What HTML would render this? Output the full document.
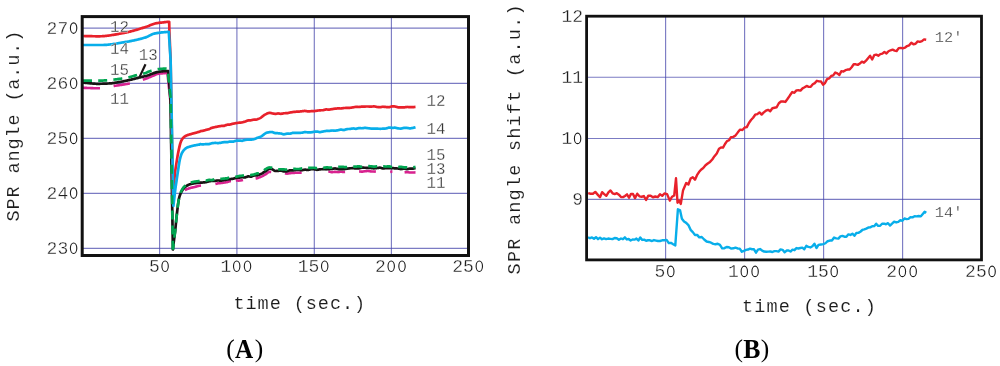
<!DOCTYPE html>
<html><head><meta charset="utf-8"><style>
html,body{margin:0;padding:0;background:#fff;}
body{width:1000px;height:366px;overflow:hidden;}
svg{display:block;}
text{-webkit-font-smoothing:antialiased;}
.g{opacity:0.999;will-change:transform;}
</style></head><body>
<svg width="1000" height="366" viewBox="0 0 1000 366"><g class="g">
<line x1="83" y1="28.1" x2="468" y2="28.1" stroke="rgba(72,72,172,0.72)" stroke-width="1.15"/>
<line x1="83" y1="83.3" x2="468" y2="83.3" stroke="rgba(72,72,172,0.72)" stroke-width="1.15"/>
<line x1="83" y1="138.4" x2="468" y2="138.4" stroke="rgba(72,72,172,0.72)" stroke-width="1.15"/>
<line x1="83" y1="193.4" x2="468" y2="193.4" stroke="rgba(72,72,172,0.72)" stroke-width="1.15"/>
<line x1="83" y1="248.4" x2="468" y2="248.4" stroke="rgba(72,72,172,0.72)" stroke-width="1.15"/>
<line x1="159.6" y1="17" x2="159.6" y2="255" stroke="rgba(72,72,172,0.72)" stroke-width="1.15"/>
<line x1="236.9" y1="17" x2="236.9" y2="255" stroke="rgba(72,72,172,0.72)" stroke-width="1.15"/>
<line x1="314.3" y1="17" x2="314.3" y2="255" stroke="rgba(72,72,172,0.72)" stroke-width="1.15"/>
<line x1="391.4" y1="17" x2="391.4" y2="255" stroke="rgba(72,72,172,0.72)" stroke-width="1.15"/>
<path d="M83,87.8 L83.71,87.82 L84.42,87.84 L85.12,87.87 L85.83,87.89 L86.54,87.92 L87.25,87.95 L87.96,87.98 L88.67,88 L89.38,88.03 L90.08,88.06 L90.79,88.09 L91.5,88.11 L92.21,88.14 L92.92,88.16 L93.62,88.19 L94.33,88.21 L95.04,88.23 L95.75,88.25 L96.46,88.26 L97.17,88.27 L97.88,88.29 L98.58,88.29 L99.29,88.3 L100,88.3 L100.73,88.29 L101.45,88.25 L102.18,88.19 L102.91,88.12 L103.63,88.02 L104.36,87.91 L105.08,87.79 L105.81,87.65 L106.54,87.51 L107.26,87.36 L107.99,87.2 L108.72,87.04 L109.44,86.88 L110.17,86.72 L110.89,86.56 L111.62,86.41 L112.35,86.26 L113.07,86.13 L113.8,86 L114.5,85.89 L115.21,85.78 L115.91,85.67 L116.62,85.56 L117.32,85.46 L118.03,85.35 L118.73,85.25 L119.43,85.15 L120.14,85.04 L120.84,84.94 L121.55,84.84 L122.25,84.73 L122.96,84.63 L123.66,84.52 L124.37,84.41 L125.07,84.3 L125.77,84.18 L126.48,84.06 L127.18,83.94 L127.89,83.81 L128.59,83.68 L129.3,83.54 L130,83.4 L130.71,83.25 L131.42,83.09 L132.13,82.93 L132.84,82.76 L133.55,82.58 L134.26,82.4 L134.97,82.21 L135.68,82.02 L136.39,81.82 L137.11,81.61 L137.82,81.4 L138.53,81.19 L139.24,80.97 L139.95,80.75 L140.66,80.53 L141.37,80.3 L142.08,80.07 L142.79,79.84 L143.5,79.6 L144.23,79.35 L144.96,79.08 L145.69,78.81 L146.42,78.52 L147.15,78.23 L147.88,77.93 L148.62,77.62 L149.35,77.32 L150.08,77.01 L150.81,76.7 L151.54,76.39 L152.27,76.09 L153,75.8 L153.8,75.46 L154.6,75.09 L155.4,74.72 L156.2,74.38 L157,74.09 L157.8,73.9 L158.54,73.78 L159.28,73.67 L160.02,73.57 L160.75,73.49 L161.49,73.41 L162.23,73.35 L162.97,73.28 L163.71,73.22 L164.45,73.16 L165.18,73.1 L165.92,73.04 L166.66,72.97 L167.4,72.9 L170.3,100" fill="none" stroke="#d8228f" stroke-width="2.6" stroke-dasharray="17 13.8 16.5 13.5 100 200"/>
<path d="M172.9,249.5 L173.45,244.67 L174,240 L174.55,235.92 L175.1,231.7 L175.63,226.48 L176.17,220.72 L176.7,215.5 L177.3,210.18 L177.9,204.99 L178.5,200.69 L179.1,198 L179.7,196.62 L180.3,195.61 L180.9,194.79 L181.5,194 L182.08,193.18 L182.66,192.37 L183.24,191.62 L183.82,190.99 L184.4,190.5 L184.94,190.15 L185.49,189.83 L186.03,189.55 L186.58,189.3 L187.12,189.07 L187.67,188.86 L188.21,188.66 L188.76,188.48 L189.3,188.3 L189.82,188.14 L190.34,187.99 L190.85,187.86 L191.37,187.73 L191.89,187.61 L192.41,187.49 L192.93,187.38 L193.45,187.26 L193.96,187.15 L194.48,187.03 L195,186.9 L195.52,186.76 L196.04,186.62 L196.57,186.47 L197.09,186.32 L197.61,186.18 L198.13,186.04 L198.66,185.91 L199.18,185.8 L199.7,185.7 L200.2,185.59 L200.7,185.52 L201.2,185.46 L201.7,185.41 L202.2,185.35 L202.7,185.3 L203.2,185.27 L203.7,185.26 L204.2,185.25 L204.7,185.24 L205.2,185.24 L205.7,185.24 L206.2,185.19 L206.7,185.08 L207.2,184.97 L207.7,184.87 L208.2,184.76 L208.7,184.65 L209.2,184.57 L209.7,184.53 L210.2,184.49 L210.7,184.45 L211.2,184.41 L211.7,184.36 L212.2,184.32 L212.7,184.28 L213.2,184.24 L213.7,184.19 L214.2,184.14 L214.7,184.09 L215.2,184.01 L215.7,183.89 L216.21,183.77 L216.72,183.64 L217.23,183.51 L217.74,183.37 L218.25,183.29 L218.76,183.25 L219.27,183.2 L219.78,183.16 L220.29,183.11 L220.8,183.07 L221.31,183 L221.82,182.92 L222.33,182.85 L222.84,182.77 L223.36,182.69 L223.87,182.61 L224.38,182.54 L224.89,182.46 L225.4,182.39 L225.91,182.32 L226.42,182.26 L226.93,182.19 L227.44,182.02 L227.95,181.84 L228.46,181.67 L228.97,181.49 L229.48,181.32 L229.99,181.15 L230.5,181.1 L231,181.06 L231.5,181.03 L232,180.99 L232.5,180.96 L233,180.93 L233.5,180.84 L234,180.75 L234.5,180.67 L235,180.58 L235.5,180.5 L236,180.41 L236.5,180.45 L237,180.49 L237.5,180.53 L238,180.57 L238.5,180.61 L239,180.65 L239.51,180.57 L240.02,180.5 L240.53,180.43 L241.04,180.35 L241.54,180.28 L242.05,180.21 L242.56,180.07 L243.07,179.93 L243.58,179.79 L244.09,179.65 L244.6,179.51 L245.11,179.41 L245.61,179.49 L246.12,179.56 L246.63,179.64 L247.14,179.71 L247.65,179.79 L248.16,179.82 L248.67,179.76 L249.18,179.7 L249.69,179.64 L250.19,179.58 L250.7,179.52 L251.21,179.43 L251.72,179.33 L252.23,179.22 L252.74,179.1 L253.25,178.99 L253.76,178.87 L254.26,178.77 L254.77,178.68 L255.28,178.59 L255.79,178.5 L256.3,178.4 L256.81,178.3 L257.32,178.15 L257.82,177.98 L258.33,177.79 L258.84,177.6 L259.35,177.39 L259.86,177.18 L260.37,176.98 L260.88,176.79 L261.38,176.58 L261.89,176.37 L262.4,176.13 L262.91,175.85 L263.43,175.57 L263.94,175.25 L264.46,174.92 L264.97,174.58 L265.49,174.28 L266,174.02 L266.54,173.63 L267.09,173.22 L267.63,172.81 L268.17,172.43 L268.71,172.12 L269.26,171.92 L269.8,171.88 L270.32,171.9 L270.83,171.93 L271.35,171.97 L271.87,172.02 L272.38,172.06 L272.9,172.11 L273.42,172.16 L273.93,172.21 L274.45,172.26 L274.97,172.31 L275.48,172.33 L276,172.34 L276.51,172.35 L277.02,172.36 L277.53,172.38 L278.04,172.41 L278.55,172.52 L279.06,172.64 L279.57,172.75 L280.08,172.87 L280.59,172.98 L281.11,173.08 L281.62,173.13 L282.13,173.18 L282.64,173.22 L283.15,173.26 L283.66,173.29 L284.17,173.33 L284.68,173.41 L285.19,173.48 L285.7,173.53 L286.22,173.58 L286.74,173.62 L287.26,173.61 L287.77,173.53 L288.29,173.44 L288.81,173.36 L289.33,173.26 L289.85,173.17 L290.37,173.11 L290.89,173.08 L291.41,173.05 L291.93,173.02 L292.44,172.99 L292.96,172.97 L293.48,172.92 L294,172.87 L294.5,172.84 L295,172.8 L295.5,172.76 L296,172.73 L296.5,172.73 L297,172.74 L297.5,172.74 L298,172.75 L298.5,172.75 L299,172.76 L299.5,172.72 L300,172.67 L300.5,172.63 L301,172.59 L301.5,172.55 L302,172.51 L302.5,172.47 L303,172.43 L303.5,172.39 L304,172.36 L304.5,172.32 L305,172.28 L305.5,172.37 L306,172.45 L306.5,172.54 L307,172.62 L307.5,172.7 L308,172.79 L308.5,172.78 L309,172.77 L309.5,172.76 L310,172.75 L310.5,172.73 L311,172.72 L311.5,172.69 L312,172.66 L312.5,172.63 L313,172.6 L313.5,172.57 L314,172.54 L314.5,172.52 L315,172.49 L315.5,172.46 L316,172.44 L316.5,172.41 L317,172.38 L317.5,172.32 L318,172.26 L318.5,172.2 L319,172.14 L319.5,172.08 L320,172.02 L320.5,172 L321,171.98 L321.5,171.96 L322,171.94 L322.5,171.92 L323,171.9 L323.5,171.9 L324,171.9 L324.5,171.9 L325,171.9 L325.5,171.9 L326,171.9 L326.5,171.86 L327,171.83 L327.5,171.79 L328,171.75 L328.5,171.71 L329,171.67 L329.5,171.76 L330,171.84 L330.5,171.93 L331,172.01 L331.5,172.1 L332,172.18 L332.5,172.12 L333,172.06 L333.5,172.01 L334,171.95 L334.5,171.89 L335,171.83 L335.5,171.88 L336,171.93 L336.5,171.98 L337,172.03 L337.5,172.08 L338,172.12 L338.5,172.05 L339,171.98 L339.5,171.91 L340,171.83 L340.5,171.76 L341,171.69 L341.5,171.75 L342,171.82 L342.5,171.88 L343,171.94 L343.5,172.01 L344,172.07 L344.5,172.05 L345,172.02 L345.5,171.99 L346,171.96 L346.5,171.94 L347,171.91 L347.5,171.79 L348,171.66 L348.5,171.53 L349,171.41 L349.5,171.29 L350,171.16 L350.5,171.18 L351,171.19 L351.5,171.21 L352,171.23 L352.5,171.24 L353,171.26 L353.5,171.34 L354,171.42 L354.5,171.51 L355,171.59 L355.5,171.67 L356,171.76 L356.5,171.69 L357,171.62 L357.5,171.55 L358,171.49 L358.5,171.42 L359,171.35 L359.5,171.41 L360,171.47 L360.5,171.53 L361,171.6 L361.5,171.66 L362,171.72 L362.5,171.64 L363,171.55 L363.5,171.47 L364,171.39 L364.5,171.31 L365,171.23 L365.5,171.18 L366,171.14 L366.5,171.09 L367,171.05 L367.5,171 L368,170.96 L368.51,171.03 L369.02,171.11 L369.53,171.19 L370.03,171.27 L370.54,171.35 L371.05,171.42 L371.56,171.45 L372.07,171.48 L372.58,171.51 L373.09,171.54 L373.6,171.57 L374.1,171.58 L374.61,171.52 L375.12,171.46 L375.63,171.41 L376.14,171.35 L376.65,171.29 L377.16,171.25 L377.67,171.24 L378.17,171.23 L378.68,171.22 L379.19,171.21 L379.7,171.2 L380.21,171.22 L380.72,171.27 L381.23,171.32 L381.73,171.37 L382.24,171.42 L382.75,171.47 L383.26,171.55 L383.77,171.65 L384.28,171.75 L384.79,171.86 L385.3,171.96 L385.8,172.06 L386.31,172.1 L386.82,172.09 L387.33,172.07 L387.84,172.06 L388.35,172.05 L388.86,172.04 L389.37,171.99 L389.87,171.91 L390.38,171.84 L390.89,171.77 L391.4,171.7 L391.9,171.62 L392.4,171.64 L392.91,171.67 L393.41,171.7 L393.91,171.73 L394.41,171.76 L394.91,171.79 L395.42,171.79 L395.92,171.79 L396.42,171.78 L396.92,171.78 L397.42,171.77 L397.93,171.77 L398.43,171.77 L398.93,171.78 L399.43,171.79 L399.94,171.8 L400.44,171.81 L400.94,171.82 L401.44,171.92 L401.94,172.03 L402.45,172.15 L402.95,172.26 L403.45,172.37 L403.95,172.49 L404.45,172.44 L404.96,172.37 L405.46,172.3 L405.96,172.23 L406.46,172.16 L406.96,172.1 L407.47,172.15 L407.97,172.22 L408.47,172.29 L408.97,172.35 L409.48,172.42 L409.98,172.48 L410.48,172.49 L410.98,172.49 L411.48,172.49 L411.99,172.49 L412.49,172.49 L412.99,172.48 L413.49,172.47 L413.99,172.45 L414.5,172.43 L415,172.41 L415.5,172.39" fill="none" stroke="#d8228f" stroke-width="2.6" stroke-dasharray="0 61.62 16.96 14.51 15.93 4.85 7.28 12.81 17.25 13.81 16.87 26.69 16.94 14.17 16.92 14.39 2.22 12.28 10.95 10"/>
<path d="M83,82.6 L83.7,82.66 L84.41,82.72 L85.11,82.79 L85.82,82.86 L86.52,82.94 L87.23,83.01 L87.93,83.09 L88.64,83.16 L89.34,83.24 L90.05,83.31 L90.75,83.39 L91.46,83.45 L92.16,83.52 L92.87,83.58 L93.57,83.63 L94.28,83.68 L94.98,83.72 L95.69,83.75 L96.39,83.78 L97.1,83.79 L97.8,83.8 L98.52,83.8 L99.24,83.79 L99.95,83.78 L100.67,83.77 L101.39,83.76 L102.11,83.74 L102.82,83.72 L103.54,83.7 L104.26,83.67 L104.98,83.64 L105.69,83.61 L106.41,83.58 L107.13,83.55 L107.85,83.51 L108.56,83.48 L109.28,83.44 L110,83.4 L110.74,83.35 L111.48,83.29 L112.22,83.21 L112.95,83.11 L113.69,83.01 L114.43,82.9 L115.17,82.78 L115.91,82.65 L116.65,82.52 L117.38,82.39 L118.12,82.26 L118.86,82.13 L119.6,82 L120.33,81.87 L121.06,81.74 L121.79,81.61 L122.52,81.47 L123.25,81.33 L123.98,81.19 L124.72,81.04 L125.45,80.89 L126.18,80.74 L126.91,80.58 L127.64,80.42 L128.37,80.26 L129.1,80.1 L129.84,79.93 L130.58,79.76 L131.32,79.58 L132.05,79.4 L132.79,79.22 L133.53,79.03 L134.27,78.84 L135.01,78.65 L135.75,78.46 L136.48,78.27 L137.22,78.08 L137.96,77.89 L138.7,77.7 L139.43,77.52 L140.16,77.34 L140.89,77.17 L141.62,77 L142.35,76.83 L143.08,76.66 L143.82,76.49 L144.55,76.31 L145.28,76.13 L146.01,75.94 L146.74,75.74 L147.47,75.52 L148.2,75.3 L149,75.02 L149.8,74.7 L150.6,74.36 L151.4,74.02 L152.2,73.69 L153,73.4 L153.8,73.13 L154.6,72.87 L155.4,72.62 L156.2,72.38 L157,72.17 L157.8,72 L158.6,71.85 L159.4,71.71 L160.2,71.58 L161,71.47 L161.8,71.37 L162.6,71.3 L163.31,71.25 L164.03,71.2 L164.74,71.17 L165.45,71.13 L166.16,71.1 L166.88,71.07 L167.59,71.04 L168.3,71 L170.4,98 L172.9,249.5 L173.45,244.67 L174,240 L174.55,235.92 L175.1,231.7 L175.63,226.48 L176.17,220.72 L176.7,215.5 L177.3,210.32 L177.9,205.36 L178.5,201.1 L179.1,198 L179.6,196.22 L180.1,194.76 L180.6,193.55 L181.1,192.5 L181.65,191.45 L182.2,190.49 L182.75,189.61 L183.3,188.83 L183.85,188.16 L184.4,187.6 L184.94,187.12 L185.49,186.67 L186.03,186.26 L186.58,185.88 L187.12,185.53 L187.67,185.22 L188.21,184.94 L188.76,184.7 L189.3,184.5 L189.82,184.33 L190.34,184.17 L190.85,184.03 L191.37,183.9 L191.89,183.77 L192.41,183.66 L192.93,183.55 L193.45,183.46 L193.96,183.36 L194.48,183.28 L195,183.2 L195.53,183.12 L196.05,183.05 L196.57,182.99 L197.1,182.93 L197.62,182.87 L198.15,182.81 L198.68,182.76 L199.2,182.71 L199.72,182.66 L200.25,182.6 L200.78,182.58 L201.3,182.57 L201.83,182.55 L202.35,182.53 L202.88,182.51 L203.4,182.46 L203.9,182.41 L204.4,182.35 L204.9,182.3 L205.4,182.25 L205.9,182.19 L206.4,182.07 L206.9,181.93 L207.4,181.79 L207.9,181.64 L208.4,181.5 L208.9,181.36 L209.4,181.27 L209.9,181.2 L210.4,181.12 L210.9,181.04 L211.4,180.97 L211.9,180.89 L212.4,180.88 L212.9,180.88 L213.4,180.89 L213.9,180.89 L214.4,180.9 L214.9,180.9 L215.4,180.84 L215.9,180.77 L216.4,180.69 L216.9,180.62 L217.4,180.54 L217.9,180.47 L218.4,180.48 L218.9,180.51 L219.4,180.53 L219.9,180.56 L220.4,180.59 L220.9,180.62 L221.4,180.56 L221.9,180.47 L222.41,180.39 L222.91,180.3 L223.42,180.21 L223.93,180.13 L224.43,180.04 L224.94,179.95 L225.45,179.87 L225.96,179.78 L226.46,179.69 L226.97,179.6 L227.48,179.52 L227.98,179.44 L228.49,179.35 L229,179.27 L229.5,179.19 L230.01,179.11 L230.52,179.05 L231.02,178.99 L231.53,178.93 L232.04,178.88 L232.54,178.82 L233.05,178.75 L233.56,178.59 L234.07,178.43 L234.57,178.27 L235.08,178.11 L235.59,177.95 L236.09,177.82 L236.6,177.8 L237.1,177.79 L237.6,177.77 L238.1,177.76 L238.6,177.75 L239.1,177.72 L239.6,177.61 L240.1,177.51 L240.6,177.41 L241.1,177.31 L241.6,177.2 L242.1,177.14 L242.6,177.21 L243.1,177.28 L243.6,177.34 L244.1,177.41 L244.6,177.48 L245.1,177.5 L245.6,177.3 L246.1,177.1 L246.6,176.9 L247.1,176.7 L247.6,176.5 L248.1,176.35 L248.6,176.41 L249.1,176.47 L249.6,176.53 L250.1,176.58 L250.6,176.64 L251.1,176.64 L251.6,176.43 L252.1,176.23 L252.6,176.02 L253.11,175.81 L253.61,175.6 L254.12,175.43 L254.62,175.44 L255.13,175.45 L255.64,175.46 L256.14,175.46 L256.65,175.45 L257.15,175.39 L257.66,175.21 L258.16,175.02 L258.67,174.82 L259.18,174.62 L259.68,174.4 L260.19,174.2 L260.69,174.04 L261.2,173.86 L261.74,173.62 L262.27,173.3 L262.81,172.91 L263.35,172.54 L263.89,172.18 L264.43,171.83 L264.96,171.52 L265.5,171.27 L266.04,171.03 L266.57,170.56 L267.11,170.09 L267.65,169.65 L268.19,169.24 L268.73,168.88 L269.26,168.67 L269.8,168.63 L270.31,168.67 L270.82,168.75 L271.32,168.88 L271.83,169.04 L272.34,169.32 L272.85,169.65 L273.36,169.98 L273.87,170.31 L274.38,170.63 L274.88,170.91 L275.39,171 L275.9,170.99 L276.43,170.96 L276.96,170.92 L277.49,170.88 L278.01,170.84 L278.54,170.8 L279.07,170.75 L279.6,170.7 L280.13,170.65 L280.66,170.59 L281.19,170.62 L281.71,170.79 L282.24,170.95 L282.77,171.12 L283.3,171.28 L283.8,171.42 L284.3,171.47 L284.8,171.45 L285.3,171.43 L285.8,171.4 L286.3,171.37 L286.8,171.34 L287.3,171.23 L287.8,171.06 L288.3,170.88 L288.8,170.71 L289.3,170.54 L289.8,170.36 L290.3,170.3 L290.8,170.32 L291.3,170.33 L291.8,170.35 L292.3,170.37 L292.8,170.39 L293.3,170.35 L293.8,170.27 L294.3,170.2 L294.81,170.13 L295.31,170.05 L295.82,169.98 L296.32,169.96 L296.83,169.97 L297.33,169.97 L297.84,169.98 L298.34,169.99 L298.85,170 L299.35,170.02 L299.86,170.05 L300.36,170.08 L300.87,170.11 L301.37,170.14 L301.88,170.17 L302.38,170.11 L302.89,170.01 L303.39,169.91 L303.9,169.81 L304.4,169.72 L304.91,169.62 L305.41,169.66 L305.92,169.73 L306.42,169.8 L306.93,169.87 L307.43,169.94 L307.94,170.01 L308.44,169.91 L308.95,169.78 L309.45,169.65 L309.96,169.52 L310.46,169.4 L310.97,169.27 L311.47,169.26 L311.98,169.26 L312.48,169.27 L312.99,169.27 L313.49,169.27 L314,169.27 L314.5,169.36 L315,169.45 L315.5,169.54 L316,169.63 L316.5,169.72 L317,169.81 L317.5,169.72 L318,169.64 L318.5,169.55 L319,169.46 L319.5,169.38 L320,169.29 L320.5,169.28 L321,169.26 L321.5,169.25 L322,169.23 L322.5,169.22 L323,169.21 L323.5,169.22 L324,169.23 L324.5,169.25 L325,169.26 L325.5,169.27 L326,169.29 L326.5,169.25 L327,169.21 L327.5,169.18 L328,169.14 L328.5,169.11 L329,169.07 L329.5,169.04 L330,169.01 L330.5,168.98 L331,168.95 L331.5,168.92 L332,168.88 L332.5,168.81 L333,168.74 L333.5,168.66 L334,168.59 L334.5,168.51 L335,168.44 L335.5,168.54 L336,168.64 L336.5,168.74 L337,168.84 L337.5,168.94 L338,169.04 L338.5,169.07 L339,169.1 L339.5,169.12 L340,169.15 L340.5,169.17 L341,169.2 L341.5,169.18 L342,169.17 L342.5,169.16 L343,169.14 L343.5,169.13 L344,169.11 L344.5,169.05 L345,168.98 L345.5,168.91 L346,168.84 L346.5,168.77 L347,168.7 L347.5,168.63 L348,168.56 L348.5,168.49 L349,168.42 L349.5,168.36 L350,168.29 L350.5,168.27 L351,168.25 L351.5,168.24 L352,168.22 L352.5,168.2 L353,168.19 L353.5,168.22 L354,168.26 L354.5,168.3 L355,168.34 L355.5,168.37 L356,168.41 L356.5,168.39 L357,168.38 L357.5,168.36 L358,168.34 L358.5,168.32 L359,168.31 L359.5,168.2 L360,168.1 L360.5,167.99 L361,167.89 L361.5,167.78 L362,167.68 L362.5,167.69 L363,167.7 L363.5,167.71 L364,167.72 L364.5,167.74 L365,167.75 L365.5,167.77 L366,167.79 L366.5,167.8 L367,167.82 L367.5,167.84 L368,167.86 L368.51,167.89 L369.02,167.91 L369.53,167.94 L370.03,167.97 L370.54,167.99 L371.05,168.02 L371.56,168.08 L372.07,168.13 L372.58,168.18 L373.09,168.24 L373.6,168.29 L374.1,168.33 L374.61,168.28 L375.12,168.23 L375.63,168.18 L376.14,168.13 L376.65,168.09 L377.16,168.03 L377.67,167.96 L378.17,167.88 L378.68,167.81 L379.19,167.74 L379.7,167.66 L380.21,167.68 L380.72,167.82 L381.23,167.96 L381.73,168.11 L382.24,168.25 L382.75,168.39 L383.26,168.43 L383.77,168.38 L384.28,168.32 L384.79,168.26 L385.3,168.2 L385.8,168.15 L386.31,168.14 L386.82,168.16 L387.33,168.19 L387.84,168.21 L388.35,168.24 L388.86,168.26 L389.37,168.24 L389.87,168.2 L390.38,168.16 L390.89,168.12 L391.4,168.08 L391.9,168.04 L392.41,168.08 L392.91,168.13 L393.41,168.18 L393.92,168.24 L394.42,168.3 L394.92,168.36 L395.43,168.38 L395.93,168.41 L396.43,168.43 L396.94,168.45 L397.44,168.48 L397.94,168.5 L398.45,168.59 L398.95,168.68 L399.45,168.78 L399.95,168.88 L400.46,168.97 L400.96,169.06 L401.46,168.99 L401.97,168.91 L402.47,168.82 L402.97,168.73 L403.48,168.64 L403.98,168.55 L404.48,168.63 L404.99,168.72 L405.49,168.81 L405.99,168.89 L406.5,168.97 L407,169.05 L407.5,168.98 L408,168.91 L408.5,168.82 L409,168.73 L409.5,168.64 L410,168.53 L410.5,168.58 L411,168.61 L411.5,168.65 L412,168.68 L412.5,168.71 L413,168.74 L413.5,168.58 L414,168.42 L414.5,168.26 L415,168.1 L415.5,167.95" fill="none" stroke="#181414" stroke-width="2.7" stroke-linejoin="round"/>
<path d="M83.3,36 L84.03,36.01 L84.76,36.03 L85.49,36.05 L86.21,36.07 L86.94,36.08 L87.67,36.1 L88.4,36.12 L89.13,36.14 L89.86,36.16 L90.59,36.18 L91.31,36.2 L92.04,36.21 L92.77,36.23 L93.5,36.24 L94.23,36.26 L94.96,36.27 L95.69,36.28 L96.41,36.29 L97.14,36.29 L97.87,36.3 L98.6,36.3 L99.32,36.3 L100.03,36.28 L100.75,36.26 L101.47,36.23 L102.19,36.2 L102.9,36.15 L103.62,36.1 L104.34,36.04 L105.05,35.98 L105.77,35.91 L106.49,35.83 L107.21,35.75 L107.92,35.66 L108.64,35.57 L109.36,35.47 L110.07,35.37 L110.79,35.27 L111.51,35.16 L112.23,35.04 L112.94,34.93 L113.66,34.81 L114.38,34.69 L115.09,34.56 L115.81,34.44 L116.53,34.31 L117.25,34.18 L117.96,34.05 L118.68,33.92 L119.4,33.79 L120.11,33.65 L120.83,33.52 L121.55,33.39 L122.27,33.26 L122.98,33.13 L123.7,33 L124.41,32.87 L125.11,32.73 L125.82,32.59 L126.53,32.44 L127.23,32.29 L127.94,32.12 L128.65,31.96 L129.35,31.79 L130.06,31.61 L130.76,31.43 L131.47,31.24 L132.18,31.05 L132.88,30.86 L133.59,30.66 L134.3,30.46 L135,30.26 L135.71,30.05 L136.42,29.84 L137.12,29.63 L137.83,29.42 L138.54,29.2 L139.24,28.98 L139.95,28.77 L140.65,28.55 L141.36,28.33 L142.07,28.11 L142.77,27.88 L143.48,27.66 L144.19,27.44 L144.89,27.22 L145.6,27 L146.33,26.76 L147.05,26.51 L147.78,26.23 L148.51,25.95 L149.23,25.65 L149.96,25.36 L150.69,25.06 L151.41,24.77 L152.14,24.49 L152.87,24.22 L153.59,23.96 L154.32,23.73 L155.05,23.52 L155.77,23.35 L156.5,23.2 L157.22,23.08 L157.94,22.97 L158.67,22.88 L159.39,22.79 L160.11,22.71 L160.83,22.63 L161.56,22.56 L162.28,22.48 L163,22.4 L163.8,22.3 L164.6,22.19 L165.4,22.07 L166.2,21.97 L167,21.88 L167.8,21.82 L168.6,21.8 L169.2,21.9 L169.4,31.8 L170.6,60 L172.9,197 L173.3,189.2 L174.2,181 L175,172.8 L175.6,168.44 L176.2,164.6 L176.85,160.36 L177.5,156.4 L178.03,153.44 L178.57,150.67 L179.1,148.2 L179.7,145.66 L180.3,143.37 L180.9,141.6 L181.53,140.24 L182.17,139.15 L182.8,138.3 L183.34,137.7 L183.88,137.17 L184.42,136.71 L184.96,136.32 L185.5,136 L186.05,135.73 L186.6,135.49 L187.15,135.28 L187.7,135.08 L188.25,134.91 L188.8,134.74 L189.35,134.57 L189.9,134.4 L190.4,134.24 L190.9,134.1 L191.4,133.95 L191.9,133.81 L192.4,133.68 L192.9,133.54 L193.4,133.41 L193.9,133.28 L194.4,133.15 L194.9,133.02 L195.4,132.88 L195.9,132.74 L196.4,132.6 L196.91,132.45 L197.42,132.3 L197.92,132.15 L198.43,131.99 L198.94,131.84 L199.45,131.68 L199.95,131.52 L200.46,131.19 L200.97,131.11 L201.48,131.02 L201.98,130.94 L202.49,130.86 L203,130.79 L203.52,130.63 L204.03,130.48 L204.55,130.33 L205.07,130.18 L205.58,130.02 L206.1,129.87 L206.62,129.75 L207.13,129.63 L207.65,129.51 L208.17,129.39 L208.68,129.27 L209.2,129.1 L209.72,128.85 L210.23,128.59 L210.75,128.34 L211.27,128.1 L211.78,127.86 L212.3,127.69 L212.81,127.58 L213.31,127.47 L213.82,127.37 L214.33,127.27 L214.84,127.17 L215.34,127.05 L215.85,126.93 L216.36,126.82 L216.87,126.7 L217.37,126.59 L217.88,126.48 L218.39,126.38 L218.9,126.3 L219.4,126.22 L219.91,126.14 L220.42,126.06 L220.93,125.98 L221.43,125.96 L221.94,125.95 L222.45,125.94 L222.96,125.93 L223.46,125.92 L223.97,125.92 L224.48,125.73 L224.99,125.53 L225.49,125.33 L226,125.13 L226.52,124.93 L227.04,124.73 L227.56,124.7 L228.08,124.67 L228.6,124.64 L229.11,124.61 L229.63,124.59 L230.15,124.52 L230.67,124.37 L231.19,124.21 L231.71,124.06 L232.23,123.9 L232.75,123.75 L233.27,123.63 L233.79,123.55 L234.3,123.46 L234.82,123.37 L235.34,123.29 L235.86,123.2 L236.38,123.12 L236.9,123.04 L237.41,122.96 L237.91,122.88 L238.42,122.79 L238.92,122.71 L239.43,122.66 L239.93,122.62 L240.44,122.58 L240.94,122.54 L241.45,122.5 L241.95,122.46 L242.46,122.32 L242.96,122.18 L243.47,122.03 L243.97,121.89 L244.48,121.75 L244.98,121.6 L245.49,121.41 L245.99,121.21 L246.5,121.01 L247.01,120.82 L247.53,120.63 L248.04,120.45 L248.55,120.42 L249.06,120.39 L249.57,120.36 L250.09,120.33 L250.6,120.29 L251.11,120.25 L251.62,120.15 L252.14,120.04 L252.65,119.93 L253.16,119.81 L253.67,119.69 L254.19,119.61 L254.7,119.62 L255.24,119.61 L255.78,119.59 L256.32,119.55 L256.86,119.5 L257.4,119.33 L257.94,119.11 L258.48,118.88 L259.02,118.64 L259.56,118.38 L260.1,118.11 L260.64,117.8 L261.19,117.43 L261.73,117.02 L262.28,116.58 L262.82,116.12 L263.37,115.69 L263.91,115.28 L264.46,114.92 L265,114.62 L265.52,114.37 L266.04,114.11 L266.57,113.84 L267.09,113.58 L267.61,113.34 L268.13,113.14 L268.66,112.98 L269.18,112.89 L269.7,112.89 L270.22,112.95 L270.75,113.03 L271.27,113.15 L271.79,113.28 L272.32,113.4 L272.84,113.49 L273.36,113.59 L273.88,113.69 L274.41,113.78 L274.93,113.85 L275.45,113.84 L275.98,113.8 L276.5,113.73 L277.03,113.63 L277.56,113.52 L278.09,113.44 L278.62,113.52 L279.15,113.6 L279.68,113.67 L280.22,113.74 L280.75,113.81 L281.28,113.78 L281.81,113.68 L282.34,113.57 L282.87,113.46 L283.4,113.36 L283.92,113.25 L284.44,113.24 L284.96,113.23 L285.48,113.22 L286,113.21 L286.51,113.19 L287.03,113.16 L287.55,113.06 L288.07,112.96 L288.59,112.85 L289.11,112.75 L289.63,112.65 L290.15,112.54 L290.67,112.45 L291.19,112.36 L291.7,112.27 L292.22,112.18 L292.74,112.1 L293.26,112.02 L293.78,111.96 L294.3,111.9 L294.81,111.85 L295.32,111.79 L295.82,111.74 L296.33,111.7 L296.84,111.68 L297.35,111.65 L297.85,111.62 L298.36,111.6 L298.87,111.57 L299.38,111.53 L299.88,111.48 L300.39,111.42 L300.9,111.37 L301.41,111.32 L301.92,111.27 L302.42,111.21 L302.93,111.14 L303.44,111.08 L303.95,111.02 L304.45,110.95 L304.96,110.89 L305.47,110.97 L305.98,111.06 L306.48,111.15 L306.99,111.24 L307.5,111.32 L308.01,111.41 L308.52,111.38 L309.02,111.34 L309.53,111.31 L310.04,111.28 L310.55,111.24 L311.05,111.21 L311.56,111.21 L312.07,111.21 L312.58,111.2 L313.08,111.2 L313.59,111.2 L314.1,111.18 L314.61,111.09 L315.11,111 L315.62,110.91 L316.13,110.83 L316.64,110.74 L317.14,110.65 L317.65,110.59 L318.16,110.53 L318.67,110.47 L319.17,110.4 L319.68,110.34 L320.19,110.29 L320.69,110.28 L321.2,110.27 L321.71,110.27 L322.22,110.26 L322.72,110.25 L323.23,110.17 L323.74,110.03 L324.25,109.88 L324.75,109.73 L325.26,109.58 L325.77,109.44 L326.27,109.4 L326.78,109.44 L327.29,109.49 L327.8,109.54 L328.3,109.59 L328.81,109.63 L329.32,109.6 L329.83,109.52 L330.33,109.43 L330.84,109.35 L331.35,109.26 L331.85,109.18 L332.36,109.09 L332.87,109.01 L333.38,108.92 L333.88,108.83 L334.39,108.74 L334.9,108.65 L335.41,108.61 L335.91,108.57 L336.42,108.53 L336.93,108.49 L337.43,108.46 L337.94,108.42 L338.45,108.43 L338.96,108.44 L339.46,108.45 L339.97,108.47 L340.48,108.48 L340.99,108.5 L341.49,108.42 L342,108.33 L342.51,108.25 L343.02,108.16 L343.53,108.08 L344.03,108 L344.54,107.99 L345.05,107.98 L345.56,107.97 L346.07,107.96 L346.58,107.95 L347.09,107.94 L347.6,107.92 L348.1,107.89 L348.61,107.87 L349.12,107.85 L349.63,107.83 L350.14,107.79 L350.65,107.71 L351.16,107.63 L351.67,107.55 L352.17,107.47 L352.68,107.39 L353.19,107.3 L353.7,107.22 L354.21,107.13 L354.72,107.04 L355.23,106.96 L355.73,106.87 L356.24,106.84 L356.75,106.86 L357.26,106.89 L357.77,106.92 L358.28,106.95 L358.79,106.98 L359.3,106.95 L359.8,106.88 L360.31,106.81 L360.82,106.74 L361.33,106.68 L361.84,106.61 L362.35,106.58 L362.86,106.57 L363.37,106.56 L363.87,106.55 L364.38,106.54 L364.89,106.54 L365.4,106.53 L365.9,106.52 L366.4,106.52 L366.9,106.51 L367.4,106.5 L367.9,106.5 L368.4,106.52 L368.9,106.55 L369.4,106.57 L369.9,106.6 L370.4,106.63 L370.9,106.66 L371.4,106.63 L371.9,106.58 L372.4,106.53 L372.9,106.48 L373.4,106.43 L373.9,106.38 L374.4,106.45 L374.9,106.55 L375.4,106.64 L375.9,106.74 L376.4,106.84 L376.9,106.93 L377.4,106.99 L377.9,107.04 L378.4,107.09 L378.9,107.14 L379.4,107.19 L379.9,107.24 L380.4,107.18 L380.9,107.08 L381.4,106.99 L381.9,106.9 L382.4,106.8 L382.9,106.71 L383.4,106.73 L383.9,106.79 L384.4,106.84 L384.9,106.9 L385.4,106.95 L385.9,107.01 L386.4,107.05 L386.9,107.08 L387.4,107.12 L387.9,107.15 L388.4,107.19 L388.9,107.23 L389.4,107.11 L389.9,106.97 L390.4,106.82 L390.9,106.67 L391.4,106.52 L391.9,106.37 L392.41,106.36 L392.91,106.39 L393.41,106.41 L393.92,106.44 L394.42,106.47 L394.92,106.5 L395.43,106.62 L395.93,106.75 L396.43,106.88 L396.94,107.01 L397.44,107.15 L397.94,107.28 L398.45,107.32 L398.95,107.35 L399.45,107.38 L399.95,107.41 L400.46,107.44 L400.96,107.47 L401.46,107.46 L401.97,107.45 L402.47,107.44 L402.97,107.42 L403.48,107.41 L403.98,107.39 L404.48,107.33 L404.99,107.26 L405.49,107.19 L405.99,107.11 L406.5,107.04 L407,106.96 L407.5,107 L408,107.02 L408.5,107.04 L409,107.05 L409.5,107.05 L410,107.05 L410.5,107.07 L411,107.09 L411.5,107.11 L412,107.13 L412.5,107.14 L413,107.15 L413.5,107.09 L414,107.04 L414.5,106.98 L415,106.93 L415.5,106.88" fill="none" stroke="#e8212b" stroke-width="2.7" stroke-linejoin="round"/>
<path d="M83,45 L83.7,45 L84.4,45 L85.1,45 L85.8,45 L86.5,45 L87.2,45 L87.9,45 L88.6,45 L89.3,45 L90,45 L90.7,45 L91.4,45 L92.1,45 L92.8,45 L93.5,45 L94.2,45 L94.9,45 L95.6,45 L96.3,45 L97,45 L97.7,45 L98.4,45 L99.1,45 L99.8,45 L100.5,45 L101.2,45 L101.9,45 L102.6,45 L103.31,44.98 L104.01,44.96 L104.71,44.93 L105.42,44.89 L106.12,44.84 L106.82,44.79 L107.53,44.73 L108.23,44.66 L108.93,44.58 L109.64,44.5 L110.34,44.42 L111.04,44.33 L111.75,44.23 L112.45,44.14 L113.15,44.03 L113.85,43.93 L114.56,43.82 L115.26,43.71 L115.96,43.59 L116.67,43.48 L117.37,43.36 L118.07,43.24 L118.78,43.12 L119.48,43 L120.18,42.88 L120.89,42.76 L121.59,42.65 L122.29,42.53 L123,42.41 L123.7,42.3 L124.41,42.19 L125.11,42.07 L125.82,41.95 L126.53,41.83 L127.23,41.71 L127.94,41.59 L128.65,41.46 L129.35,41.33 L130.06,41.2 L130.76,41.06 L131.47,40.92 L132.18,40.78 L132.88,40.64 L133.59,40.49 L134.3,40.34 L135,40.19 L135.71,40.03 L136.42,39.87 L137.12,39.7 L137.83,39.53 L138.54,39.36 L139.24,39.18 L139.95,39 L140.65,38.82 L141.36,38.63 L142.07,38.44 L142.77,38.24 L143.48,38.04 L144.19,37.83 L144.89,37.62 L145.6,37.4 L146.32,37.15 L147.05,36.85 L147.78,36.52 L148.5,36.16 L149.22,35.78 L149.95,35.4 L150.68,35.03 L151.4,34.67 L152.12,34.34 L152.85,34.04 L153.58,33.79 L154.3,33.6 L155.03,33.44 L155.75,33.3 L156.48,33.17 L157.2,33.05 L157.93,32.93 L158.65,32.82 L159.38,32.73 L160.1,32.63 L160.82,32.54 L161.55,32.46 L162.28,32.38 L163,32.3 L163.72,32.23 L164.45,32.16 L165.18,32.09 L165.9,32.03 L166.62,31.98 L167.35,31.92 L168.08,31.86 L168.8,31.8 L170.6,60 L173.4,205.8 L174.2,199 L174.9,192.5 L175.43,188.39 L175.97,184.66 L176.5,181 L177.07,177.07 L177.63,173.22 L178.2,169.5 L178.73,165.94 L179.27,162.48 L179.8,159.7 L180.33,157.62 L180.85,155.81 L181.38,154.29 L181.9,153.1 L182.4,152.19 L182.9,151.41 L183.4,150.73 L183.9,150.14 L184.4,149.6 L184.95,149.05 L185.5,148.56 L186.05,148.14 L186.6,147.8 L187.14,147.55 L187.68,147.33 L188.22,147.15 L188.76,146.97 L189.3,146.8 L189.84,146.62 L190.38,146.45 L190.92,146.29 L191.46,146.14 L192,146 L192.52,145.88 L193.03,145.76 L193.55,145.64 L194.06,145.53 L194.58,145.42 L195.09,145.31 L195.61,145.21 L196.12,145.11 L196.64,145.02 L197.15,144.93 L197.67,144.85 L198.18,144.77 L198.7,144.7 L199.2,144.63 L199.71,144.57 L200.21,144.16 L200.71,144.2 L201.22,144.25 L201.72,144.29 L202.23,144.34 L202.73,144.39 L203.23,144.39 L203.74,144.33 L204.24,144.28 L204.74,144.22 L205.25,144.17 L205.75,144.12 L206.26,144.1 L206.76,144.1 L207.26,144.11 L207.77,144.12 L208.27,144.12 L208.77,144.13 L209.28,144.05 L209.78,143.89 L210.29,143.74 L210.79,143.58 L211.29,143.42 L211.8,143.26 L212.3,143.17 L212.81,143.12 L213.31,143.07 L213.82,143.02 L214.33,142.97 L214.84,142.92 L215.34,142.92 L215.85,142.96 L216.36,142.99 L216.87,143.02 L217.37,143.06 L217.88,143.09 L218.39,143.05 L218.9,142.99 L219.4,142.93 L219.91,142.87 L220.42,142.81 L220.93,142.75 L221.43,142.65 L221.94,142.54 L222.45,142.43 L222.96,142.32 L223.46,142.21 L223.97,142.1 L224.48,142.11 L224.99,142.13 L225.49,142.14 L226,142.16 L226.52,142.17 L227.04,142.18 L227.56,142.08 L228.08,141.98 L228.6,141.88 L229.11,141.78 L229.63,141.68 L230.15,141.61 L230.67,141.62 L231.19,141.64 L231.71,141.65 L232.23,141.66 L232.75,141.68 L233.27,141.6 L233.79,141.43 L234.3,141.26 L234.82,141.1 L235.34,140.93 L235.86,140.76 L236.38,140.69 L236.9,140.65 L237.41,140.61 L237.91,140.58 L238.42,140.54 L238.92,140.5 L239.43,140.54 L239.93,140.6 L240.44,140.66 L240.94,140.71 L241.45,140.77 L241.95,140.82 L242.46,140.69 L242.96,140.54 L243.47,140.39 L243.97,140.24 L244.48,140.09 L244.98,139.94 L245.49,139.86 L245.99,139.79 L246.5,139.71 L247.01,139.63 L247.53,139.56 L248.04,139.5 L248.55,139.54 L249.06,139.58 L249.57,139.62 L250.09,139.67 L250.6,139.71 L251.11,139.72 L251.62,139.63 L252.14,139.54 L252.65,139.44 L253.16,139.34 L253.67,139.23 L254.19,139.09 L254.7,138.92 L255.24,138.72 L255.78,138.49 L256.32,138.24 L256.86,137.96 L257.4,137.79 L257.94,137.65 L258.48,137.49 L259.02,137.32 L259.56,137.14 L260.1,136.96 L260.64,136.69 L261.19,136.38 L261.73,136.04 L262.28,135.68 L262.82,135.31 L263.37,134.87 L263.91,134.42 L264.46,134 L265,133.63 L265.52,133.3 L266.04,132.97 L266.57,132.8 L267.09,132.64 L267.61,132.5 L268.13,132.39 L268.66,132.33 L269.18,132.25 L269.7,132.13 L270.22,132.06 L270.75,132.02 L271.27,132.02 L271.79,132.04 L272.32,132.15 L272.84,132.33 L273.36,132.52 L273.88,132.71 L274.41,132.89 L274.93,133.06 L275.45,133.14 L275.98,133.19 L276.5,133.21 L277.03,133.21 L277.56,133.21 L278.09,133.23 L278.62,133.29 L279.15,133.35 L279.68,133.41 L280.22,133.47 L280.75,133.52 L281.28,133.63 L281.81,133.78 L282.34,133.94 L282.87,134.08 L283.4,134.22 L283.92,134.35 L284.44,134.27 L284.96,134.14 L285.48,134.01 L286,133.86 L286.51,133.71 L287.03,133.57 L287.55,133.61 L288.07,133.64 L288.59,133.68 L289.11,133.71 L289.63,133.73 L290.15,133.71 L290.67,133.54 L291.19,133.38 L291.7,133.22 L292.22,133.06 L292.74,132.91 L293.26,132.83 L293.78,132.82 L294.3,132.81 L294.81,132.81 L295.32,132.82 L295.82,132.82 L296.33,132.84 L296.84,132.86 L297.35,132.88 L297.85,132.91 L298.36,132.93 L298.87,132.96 L299.38,132.93 L299.88,132.88 L300.39,132.83 L300.9,132.78 L301.41,132.74 L301.92,132.69 L302.42,132.59 L302.93,132.48 L303.44,132.36 L303.95,132.25 L304.45,132.14 L304.96,132.03 L305.47,132.08 L305.98,132.15 L306.48,132.22 L306.99,132.28 L307.5,132.35 L308.01,132.42 L308.52,132.41 L309.02,132.4 L309.53,132.39 L310.04,132.38 L310.55,132.37 L311.05,132.35 L311.56,132.26 L312.07,132.16 L312.58,132.06 L313.08,131.97 L313.59,131.87 L314.1,131.78 L314.61,131.74 L315.11,131.7 L315.62,131.66 L316.13,131.61 L316.64,131.57 L317.14,131.57 L317.65,131.67 L318.16,131.77 L318.67,131.86 L319.17,131.96 L319.68,132.06 L320.19,132.08 L320.69,131.99 L321.2,131.89 L321.71,131.79 L322.22,131.69 L322.72,131.59 L323.23,131.49 L323.74,131.4 L324.25,131.3 L324.75,131.2 L325.26,131.11 L325.77,131.01 L326.27,130.97 L326.78,130.97 L327.29,130.97 L327.8,130.97 L328.3,130.97 L328.81,130.97 L329.32,130.91 L329.83,130.83 L330.33,130.74 L330.84,130.66 L331.35,130.57 L331.85,130.49 L332.36,130.5 L332.87,130.55 L333.38,130.61 L333.88,130.66 L334.39,130.71 L334.9,130.77 L335.41,130.7 L335.91,130.61 L336.42,130.51 L336.93,130.42 L337.43,130.33 L337.94,130.23 L338.45,130.12 L338.96,130.01 L339.46,129.91 L339.97,129.8 L340.48,129.69 L340.99,129.58 L341.49,129.66 L342,129.74 L342.51,129.82 L343.02,129.9 L343.53,129.98 L344.03,130.05 L344.54,129.88 L345.05,129.71 L345.56,129.54 L346.07,129.37 L346.58,129.2 L347.09,129.05 L347.6,129.04 L348.1,129.02 L348.61,129 L349.12,128.99 L349.63,128.97 L350.14,128.93 L350.65,128.84 L351.16,128.75 L351.67,128.66 L352.17,128.57 L352.68,128.48 L353.19,128.45 L353.7,128.52 L354.21,128.6 L354.72,128.67 L355.23,128.75 L355.73,128.83 L356.24,128.8 L356.75,128.66 L357.26,128.51 L357.77,128.37 L358.28,128.23 L358.79,128.09 L359.3,128.05 L359.8,128.09 L360.31,128.13 L360.82,128.18 L361.33,128.23 L361.84,128.28 L362.35,128.23 L362.86,128.14 L363.37,128.05 L363.87,127.97 L364.38,127.89 L364.89,127.81 L365.4,127.84 L365.9,127.91 L366.41,127.98 L366.91,128.06 L367.41,128.13 L367.92,128.21 L368.42,128.27 L368.92,128.32 L369.43,128.38 L369.93,128.43 L370.43,128.49 L370.94,128.55 L371.44,128.56 L371.94,128.57 L372.45,128.57 L372.95,128.57 L373.45,128.58 L373.95,128.58 L374.46,128.59 L374.96,128.61 L375.46,128.62 L375.97,128.64 L376.47,128.65 L376.97,128.66 L377.48,128.68 L377.98,128.71 L378.48,128.73 L378.99,128.75 L379.49,128.76 L379.99,128.78 L380.5,128.78 L381,128.77 L381.52,128.75 L382.04,128.73 L382.56,128.69 L383.08,128.65 L383.6,128.63 L384.12,128.6 L384.64,128.57 L385.16,128.53 L385.68,128.5 L386.2,128.41 L386.72,128.26 L387.24,128.11 L387.76,127.96 L388.28,127.81 L388.8,127.67 L389.32,127.63 L389.84,127.66 L390.36,127.69 L390.88,127.74 L391.4,127.8 L391.9,127.86 L392.41,127.85 L392.91,127.81 L393.41,127.78 L393.92,127.75 L394.42,127.72 L394.92,127.69 L395.43,127.79 L395.93,127.91 L396.43,128.03 L396.94,128.16 L397.44,128.28 L397.94,128.41 L398.45,128.45 L398.95,128.48 L399.45,128.51 L399.95,128.54 L400.46,128.57 L400.96,128.6 L401.46,128.49 L401.97,128.36 L402.47,128.23 L402.97,128.1 L403.48,127.97 L403.98,127.83 L404.48,127.85 L404.99,127.87 L405.49,127.89 L405.99,127.91 L406.5,127.93 L407,127.94 L407.5,128.03 L408,128.11 L408.5,128.18 L409,128.25 L409.5,128.31 L410,128.36 L410.5,128.29 L411,128.22 L411.5,128.15 L412,128.07 L412.5,128 L413,127.92 L413.5,127.77 L414,127.63 L414.5,127.49 L415,127.35 L415.5,127.21" fill="none" stroke="#08aeea" stroke-width="2.7" stroke-linejoin="round"/>
<path d="M83,80.7 L83.7,80.7 L84.4,80.69 L85.1,80.69 L85.8,80.69 L86.5,80.68 L87.2,80.68 L87.9,80.68 L88.6,80.67 L89.3,80.67 L90,80.67 L90.7,80.67 L91.4,80.66 L92.1,80.66 L92.8,80.66 L93.5,80.65 L94.2,80.65 L94.9,80.65 L95.6,80.64 L96.3,80.64 L97,80.63 L97.7,80.63 L98.4,80.62 L99.1,80.61 L99.8,80.61 L100.5,80.6 L101.24,80.59 L101.98,80.57 L102.72,80.54 L103.46,80.5 L104.19,80.46 L104.93,80.42 L105.67,80.36 L106.41,80.31 L107.15,80.25 L107.89,80.18 L108.63,80.11 L109.37,80.04 L110.11,79.97 L110.84,79.9 L111.58,79.82 L112.32,79.75 L113.06,79.67 L113.8,79.6 L114.55,79.52 L115.29,79.44 L116.04,79.35 L116.78,79.26 L117.53,79.16 L118.27,79.06 L119.02,78.95 L119.76,78.84 L120.51,78.73 L121.25,78.62 L122,78.5 L122.71,78.39 L123.42,78.27 L124.13,78.16 L124.84,78.03 L125.55,77.91 L126.26,77.78 L126.97,77.64 L127.68,77.5 L128.39,77.35 L129.1,77.2 L129.82,77.03 L130.53,76.85 L131.25,76.66 L131.97,76.45 L132.68,76.24 L133.4,76.03 L134.12,75.81 L134.83,75.6 L135.55,75.38 L136.27,75.18 L136.98,74.98 L137.7,74.8 L138.4,74.63 L139.1,74.48 L139.8,74.33 L140.5,74.19 L141.2,74.05 L141.9,73.9 L142.6,73.75 L143.3,73.58 L144,73.4 L144.73,73.18 L145.45,72.94 L146.18,72.67 L146.91,72.38 L147.64,72.09 L148.36,71.79 L149.09,71.49 L149.82,71.21 L150.55,70.95 L151.27,70.71 L152,70.5 L152.76,70.31 L153.51,70.12 L154.27,69.93 L155.02,69.76 L155.78,69.6 L156.53,69.45 L157.29,69.32 L158.04,69.2 L158.8,69.1 L159.52,69.02 L160.23,68.95 L160.95,68.88 L161.67,68.82 L162.38,68.76 L163.1,68.71 L163.82,68.66 L164.53,68.61 L165.25,68.56 L165.97,68.51 L166.68,68.46 L167.4,68.4 L170.6,98 L172.9,249.5" fill="none" stroke="#00a651" stroke-width="2.7" stroke-dasharray="9 6.2"/>
<path d="M172.9,249.5 L173.45,244.67 L174,240 L174.55,235.92 L175.1,231.7 L175.63,226.48 L176.17,220.72 L176.7,215.5 L177.3,210.37 L177.9,205.5 L178.5,201.25 L179.1,198 L179.6,195.97 L180.1,194.24 L180.6,192.8 L181.1,191.6 L181.65,190.46 L182.2,189.43 L182.75,188.5 L183.3,187.69 L183.85,186.99 L184.4,186.4 L184.94,185.89 L185.49,185.42 L186.03,184.98 L186.58,184.58 L187.12,184.21 L187.67,183.88 L188.21,183.59 L188.76,183.33 L189.3,183.1 L189.82,182.91 L190.34,182.73 L190.85,182.56 L191.37,182.4 L191.89,182.26 L192.41,182.12 L192.93,182 L193.45,181.88 L193.96,181.78 L194.48,181.69 L195,181.6 L195.53,181.52 L196.05,181.45 L196.57,181.38 L197.1,181.32 L197.62,181.26 L198.15,181.2 L198.68,181.15 L199.2,181.1 L199.72,181.05 L200.25,181.31 L200.78,181.13 L201.3,180.95 L201.83,180.77 L202.35,180.58 L202.88,180.4 L203.4,180.39 L203.9,180.43 L204.4,180.47 L204.9,180.51 L205.4,180.55 L205.9,180.6 L206.4,180.5 L206.9,180.37 L207.4,180.24 L207.9,180.11 L208.4,179.97 L208.9,179.84 L209.4,179.86 L209.9,179.92 L210.4,179.97 L210.9,180.03 L211.4,180.08 L211.9,180.14 L212.4,180 L212.9,179.82 L213.4,179.63 L213.9,179.45 L214.4,179.26 L214.9,179.08 L215.4,179.09 L215.9,179.14 L216.4,179.2 L216.9,179.26 L217.4,179.31 L217.9,179.37 L218.4,179.31 L218.9,179.23 L219.4,179.14 L219.9,179.05 L220.4,178.96 L220.9,178.88 L221.4,178.83 L221.9,178.79 L222.41,178.75 L222.91,178.7 L223.42,178.66 L223.93,178.61 L224.43,178.56 L224.94,178.51 L225.45,178.46 L225.96,178.41 L226.46,178.35 L226.97,178.3 L227.48,178.13 L227.98,177.95 L228.49,177.77 L229,177.59 L229.5,177.42 L230.01,177.24 L230.52,177.18 L231.02,177.12 L231.53,177.05 L232.04,176.99 L232.54,176.93 L233.05,176.87 L233.56,176.85 L234.07,176.83 L234.57,176.8 L235.08,176.78 L235.59,176.76 L236.09,176.72 L236.6,176.6 L237.1,176.48 L237.6,176.35 L238.1,176.24 L238.6,176.12 L239.1,176.01 L239.6,175.95 L240.1,175.89 L240.6,175.83 L241.1,175.77 L241.6,175.72 L242.1,175.66 L242.6,175.6 L243.1,175.54 L243.6,175.48 L244.1,175.42 L244.6,175.36 L245.1,175.32 L245.6,175.35 L246.1,175.37 L246.6,175.4 L247.1,175.42 L247.6,175.44 L248.1,175.45 L248.6,175.39 L249.1,175.32 L249.6,175.26 L250.1,175.19 L250.6,175.12 L251.1,175.04 L251.6,174.95 L252.1,174.86 L252.6,174.77 L253.11,174.67 L253.61,174.57 L254.12,174.46 L254.62,174.29 L255.13,174.11 L255.64,173.94 L256.14,173.75 L256.65,173.57 L257.15,173.43 L257.66,173.4 L258.16,173.36 L258.67,173.32 L259.18,173.27 L259.68,173.21 L260.19,173.08 L260.69,172.85 L261.2,172.61 L261.74,172.29 L262.27,171.9 L262.81,171.44 L263.35,170.97 L263.89,170.49 L264.43,170.02 L264.96,169.59 L265.5,169.22 L266.04,168.88 L266.57,168.6 L267.11,168.31 L267.65,168.04 L268.19,167.81 L268.73,167.64 L269.26,167.51 L269.8,167.46 L270.31,167.48 L270.82,167.56 L271.32,167.67 L271.83,167.82 L272.34,167.96 L272.85,168.1 L273.36,168.25 L273.87,168.39 L274.38,168.51 L274.88,168.6 L275.39,168.75 L275.9,168.88 L276.43,168.99 L276.96,169.09 L277.49,169.19 L278.01,169.29 L278.54,169.29 L279.07,169.29 L279.6,169.28 L280.13,169.27 L280.66,169.26 L281.19,169.27 L281.71,169.31 L282.24,169.35 L282.77,169.39 L283.3,169.42 L283.8,169.44 L284.3,169.47 L284.8,169.51 L285.3,169.54 L285.8,169.57 L286.3,169.6 L286.8,169.62 L287.3,169.58 L287.8,169.52 L288.3,169.44 L288.8,169.37 L289.3,169.3 L289.8,169.22 L290.3,169.15 L290.8,169.09 L291.3,169.02 L291.8,168.95 L292.3,168.88 L292.8,168.82 L293.3,168.81 L293.8,168.85 L294.3,168.88 L294.81,168.92 L295.31,168.96 L295.82,169 L296.32,169.01 L296.83,169 L297.33,169 L297.84,168.99 L298.34,168.99 L298.85,168.98 L299.35,168.92 L299.86,168.83 L300.36,168.74 L300.87,168.65 L301.37,168.56 L301.88,168.47 L302.38,168.48 L302.89,168.52 L303.39,168.56 L303.9,168.61 L304.4,168.65 L304.91,168.69 L305.41,168.58 L305.92,168.43 L306.42,168.29 L306.93,168.14 L307.43,168 L307.94,167.85 L308.44,167.83 L308.95,167.83 L309.45,167.83 L309.96,167.83 L310.46,167.82 L310.97,167.82 L311.47,167.81 L311.98,167.79 L312.48,167.78 L312.99,167.77 L313.49,167.75 L314,167.74 L314.5,167.82 L315,167.91 L315.5,167.99 L316,168.07 L316.5,168.16 L317,168.24 L317.5,168.19 L318,168.14 L318.5,168.09 L319,168.04 L319.5,167.99 L320,167.94 L320.5,167.93 L321,167.92 L321.5,167.9 L322,167.89 L322.5,167.88 L323,167.86 L323.5,167.79 L324,167.72 L324.5,167.64 L325,167.57 L325.5,167.49 L326,167.42 L326.5,167.43 L327,167.44 L327.5,167.45 L328,167.47 L328.5,167.48 L329,167.49 L329.5,167.53 L330,167.56 L330.5,167.6 L331,167.64 L331.5,167.67 L332,167.71 L332.5,167.59 L333,167.47 L333.5,167.35 L334,167.23 L334.5,167.11 L335,166.99 L335.5,166.98 L336,166.96 L336.5,166.95 L337,166.94 L337.5,166.92 L338,166.91 L338.5,166.89 L339,166.86 L339.5,166.84 L340,166.82 L340.5,166.79 L341,166.77 L341.5,166.81 L342,166.85 L342.5,166.89 L343,166.93 L343.5,166.97 L344,167.01 L344.5,167.05 L345,167.08 L345.5,167.11 L346,167.14 L346.5,167.18 L347,167.21 L347.5,167.15 L348,167.1 L348.5,167.04 L349,166.99 L349.5,166.93 L350,166.87 L350.5,166.84 L351,166.8 L351.5,166.76 L352,166.72 L352.5,166.68 L353,166.64 L353.5,166.64 L354,166.64 L354.5,166.63 L355,166.63 L355.5,166.63 L356,166.62 L356.5,166.57 L357,166.51 L357.5,166.45 L358,166.39 L358.5,166.33 L359,166.28 L359.5,166.37 L360,166.46 L360.5,166.55 L361,166.64 L361.5,166.73 L362,166.82 L362.5,166.73 L363,166.64 L363.5,166.56 L364,166.47 L364.5,166.38 L365,166.3 L365.5,166.28 L366,166.26 L366.5,166.24 L367,166.22 L367.5,166.2 L368,166.19 L368.51,166.2 L369.02,166.21 L369.53,166.22 L370.03,166.23 L370.54,166.24 L371.05,166.26 L371.56,166.34 L372.07,166.41 L372.58,166.48 L373.09,166.55 L373.6,166.63 L374.1,166.67 L374.61,166.61 L375.12,166.54 L375.63,166.48 L376.14,166.42 L376.65,166.35 L377.16,166.34 L377.67,166.42 L378.17,166.51 L378.68,166.59 L379.19,166.68 L379.7,166.77 L380.21,166.79 L380.72,166.72 L381.23,166.65 L381.73,166.58 L382.24,166.51 L382.75,166.44 L383.26,166.42 L383.77,166.44 L384.28,166.47 L384.79,166.49 L385.3,166.51 L385.8,166.54 L386.31,166.52 L386.82,166.48 L387.33,166.44 L387.84,166.4 L388.35,166.36 L388.86,166.32 L389.37,166.4 L389.87,166.52 L390.38,166.65 L390.89,166.77 L391.4,166.89 L391.9,167.02 L392.41,167.04 L392.91,167.04 L393.41,167.05 L393.92,167.05 L394.42,167.06 L394.92,167.07 L395.43,167.06 L395.93,167.05 L396.43,167.03 L396.94,167.02 L397.44,167.01 L397.94,167 L398.45,166.98 L398.95,166.96 L399.45,166.95 L399.95,166.93 L400.46,166.91 L400.96,166.89 L401.46,166.96 L401.97,167.04 L402.47,167.12 L402.97,167.19 L403.48,167.26 L403.98,167.33 L404.48,167.34 L404.99,167.34 L405.49,167.33 L405.99,167.33 L406.5,167.31 L407,167.3 L407.5,167.36 L408,167.41 L408.5,167.45 L409,167.48 L409.5,167.51 L410,167.53 L410.5,167.5 L411,167.46 L411.5,167.42 L412,167.38 L412.5,167.33 L413,167.29 L413.5,167.21 L414,167.13 L414.5,167.06 L415,166.99 L415.5,166.92" fill="none" stroke="#00a651" stroke-width="2.7" stroke-dasharray="9 6.1" stroke-dashoffset="3.12"/>
<line x1="145.5" y1="64.3" x2="139.4" y2="77.4" stroke="#181414" stroke-width="2.2"/>
<rect x="82.2" y="16.6" width="386.3" height="238.9" fill="none" stroke="#111" stroke-width="3"/>
<line x1="587" y1="77.2" x2="981" y2="77.2" stroke="rgba(72,72,172,0.72)" stroke-width="1.15"/>
<line x1="587" y1="138.5" x2="981" y2="138.5" stroke="rgba(72,72,172,0.72)" stroke-width="1.15"/>
<line x1="587" y1="199.4" x2="981" y2="199.4" stroke="rgba(72,72,172,0.72)" stroke-width="1.15"/>
<line x1="665.6" y1="17" x2="665.6" y2="259" stroke="rgba(72,72,172,0.72)" stroke-width="1.15"/>
<line x1="744.6" y1="17" x2="744.6" y2="259" stroke="rgba(72,72,172,0.72)" stroke-width="1.15"/>
<line x1="823.6" y1="17" x2="823.6" y2="259" stroke="rgba(72,72,172,0.72)" stroke-width="1.15"/>
<line x1="902.6" y1="17" x2="902.6" y2="259" stroke="rgba(72,72,172,0.72)" stroke-width="1.15"/>
<path d="M588,237.23 L590,238.24 L592,237.48 L594,238.74 L596,237.19 L598,239.14 L600,237.64 L602,239.27 L604,238.37 L606.12,239.13 L608.25,238.56 L610.38,238.84 L612.5,239.15 L614.62,237.98 L616.75,238.2 L618.88,239.71 L621,238.5 L622.93,239.24 L624.86,237.38 L626.79,239.45 L628.71,239 L630.64,240.48 L632.57,239.53 L634.5,239.67 L636.43,238.55 L638.36,240.53 L640.29,237.41 L642.21,239.94 L644.14,239.63 L646.07,240.75 L648,240.26 L650,240.27 L652,241.03 L654,240.05 L656,240.55 L658,241.02 L660,240.98 L662.2,240.31 L664.4,240.25 L666.6,239.89 L668.77,243.06 L670.95,242.87 L673.12,244.3 L675.3,245.4 L677.9,209.3 L680.1,210.4 L681.9,218.7 L684.05,221.59 L686.2,222.86 L688.4,225.03 L690.6,229.82 L692.8,232.11 L695,234.97 L697.15,234.9 L699.3,237.4 L701.73,237 L704.17,239.49 L706.6,241.53 L708.83,241.95 L711.05,242.74 L713.27,243.85 L715.5,244.21 L717.73,243.75 L719.95,244.88 L722.17,248.37 L724.4,248.18 L726.62,246.99 L728.85,247.25 L731.07,248.59 L733.3,248.31 L735.44,247.59 L737.58,248.44 L739.72,248.64 L741.86,251.77 L744,250.83 L746,249.91 L748,249.55 L750,248.62 L752,249.25 L754,249.28 L756,252.68 L758,249.61 L760,249.07 L762.07,250.55 L764.13,251.55 L766.2,251.79 L768.27,251.61 L770.33,251.53 L772.4,252 L774.43,251.09 L776.46,251.09 L778.49,251.62 L780.51,249.37 L782.54,249.86 L784.57,252.34 L786.6,250.52 L788.57,250.53 L790.53,251.53 L792.5,249.66 L794.47,250.17 L796.43,248.07 L798.4,248.49 L800.37,247.97 L802.33,247.65 L804.3,249.19 L806.33,245.85 L808.36,246.94 L810.39,247.43 L812.41,246.28 L814.44,243.76 L816.47,248 L818.5,244.91 L820.9,244.5 L823.3,244.13 L825.46,243.25 L827.61,241.23 L829.77,240.57 L831.93,240.52 L834.09,237.55 L836.24,238.37 L838.4,238.58 L840.4,236.35 L842.4,235.88 L844.4,236.7 L846.4,236.73 L848.4,234.34 L850.4,234.95 L852.4,233.69 L854.4,235.78 L856.38,233 L858.36,232.86 L860.33,231.73 L862.31,229.98 L864.29,229.35 L866.27,228.59 L868.24,227.57 L870.22,227.41 L872.2,226.32 L874.18,226.15 L876.16,223.7 L878.13,225.88 L880.11,225.78 L882.09,223.75 L884.07,223.68 L886.04,224.27 L888.02,223.15 L890,225.52 L892.07,223.63 L894.13,221.67 L896.2,222.46 L898.27,221.88 L900.33,220.26 L902.4,220.77 L904.43,218.41 L906.46,219.1 L908.49,218.87 L910.51,217.17 L912.54,217.4 L914.57,216.23 L916.6,216.41 L918.73,216.01 L920.87,216.33 L923,213.7 L924.6,211.73 L926.3,212.8" fill="none" stroke="#08aeea" stroke-width="2.4" stroke-linejoin="round"/>
<path d="M588.2,193.14 L590.56,193.77 L592.92,193.75 L595.28,191.9 L597.64,194.6 L600,197.19 L602.1,192.21 L604.2,194.13 L606.3,195.77 L608.4,192.38 L610.5,190.47 L612.6,193.33 L614.7,194.1 L616.8,193.23 L618.9,194.66 L621,197.05 L623,197.15 L625,195.98 L627,194.35 L629,197.76 L631,193.89 L633,193.98 L635,198.12 L637.22,193.68 L639.43,196.31 L641.65,196.75 L643.87,196.03 L646.08,199.99 L648.3,195.6 L650.64,195.78 L652.98,197.25 L655.32,196.51 L657.66,197.11 L660,194.36 L662.2,195.87 L664.4,193.45 L667.1,194.08 L669.8,200.67 L672,196.78 L674.2,195.56 L676,178.3 L677.5,202.8 L679.2,200.6 L680.8,203.9 L683,190.59 L686.2,183.01 L688.4,184.48 L690.6,178.56 L692.8,177.2 L695,179.67 L697,175.16 L699,172.03 L701,169.7 L703.25,168.02 L705.5,165.31 L707.75,163.5 L710,161.9 L712.25,159.45 L714.5,156.15 L716.75,153.48 L719,148.7 L721,147.53 L723,147.58 L725,144.01 L727,141.17 L729,140.27 L731,137.18 L733.28,136.87 L735.57,135.4 L737.85,132.35 L740.13,129.6 L742.42,129.99 L744.7,127.54 L746.8,127.09 L748.9,122.95 L751,120.06 L753.1,117.75 L755.2,114.71 L757.34,114.15 L759.49,112.39 L761.63,114.6 L763.77,112.35 L765.91,110.73 L768.06,109.87 L770.2,111.29 L772.36,108.24 L774.51,107.73 L776.67,107.3 L778.83,103.28 L780.99,101.53 L783.14,101.46 L785.3,101.92 L787.63,98.78 L789.97,95.3 L792.3,92.01 L794.35,92.85 L796.4,90.38 L798.45,90.23 L800.5,90.57 L802.55,88.36 L804.6,87.27 L806.64,85.96 L808.69,86.9 L810.73,86.72 L812.78,84.25 L814.82,83.1 L816.87,80.82 L818.91,81.41 L820.96,81.46 L823,84.71 L825.04,83.03 L827.09,79.15 L829.13,78.42 L831.18,75.98 L833.22,75.4 L835.27,72.57 L837.31,73.39 L839.36,74.94 L841.4,71.09 L843.45,71.56 L845.5,70.18 L847.55,69.52 L849.6,69.49 L851.65,67.21 L853.7,64.3 L855.75,64.28 L857.8,64.88 L859.85,63.55 L861.9,61.66 L863.95,62.66 L866,60.66 L868.05,58.16 L870.1,55.74 L872.15,59.54 L874.2,55.19 L876.25,54.64 L878.3,55.67 L880.34,54.14 L882.38,53.69 L884.42,51.93 L886.47,53.43 L888.51,51.24 L890.55,50.28 L892.59,49.62 L894.63,50.61 L896.67,51.05 L898.72,48.07 L900.76,47.83 L902.8,48.32 L904.93,47.67 L907.05,46.07 L909.18,45.27 L911.31,42.67 L913.44,44.26 L915.56,43.73 L917.69,41.39 L919.82,41.92 L921.95,41.16 L924.07,39.38 L926.2,39.7" fill="none" stroke="#e8212b" stroke-width="2.4" stroke-linejoin="round"/>
<rect x="586.6" y="16.2" width="394.9" height="243.7" fill="none" stroke="#111" stroke-width="2.8"/>
<text x="52" y="33.9" text-anchor="middle" font-family="Liberation Mono" font-size="18" fill="#1e1e1e" stroke="#fff" stroke-width="0.31">2</text>
<text x="62.8" y="33.9" text-anchor="middle" font-family="Liberation Mono" font-size="18" fill="#1e1e1e" stroke="#fff" stroke-width="0.31">7</text>
<ellipse cx="73.6" cy="28.09" rx="3.19" ry="5.25" fill="none" stroke="#1e1e1e" stroke-width="1.12"/>
<text x="52" y="89.1" text-anchor="middle" font-family="Liberation Mono" font-size="18" fill="#1e1e1e" stroke="#fff" stroke-width="0.31">2</text>
<text x="62.8" y="89.1" text-anchor="middle" font-family="Liberation Mono" font-size="18" fill="#1e1e1e" stroke="#fff" stroke-width="0.31">6</text>
<ellipse cx="73.6" cy="83.3" rx="3.19" ry="5.25" fill="none" stroke="#1e1e1e" stroke-width="1.12"/>
<text x="52" y="144.2" text-anchor="middle" font-family="Liberation Mono" font-size="18" fill="#1e1e1e" stroke="#fff" stroke-width="0.31">2</text>
<text x="62.8" y="144.2" text-anchor="middle" font-family="Liberation Mono" font-size="18" fill="#1e1e1e" stroke="#fff" stroke-width="0.31">5</text>
<ellipse cx="73.6" cy="138.4" rx="3.19" ry="5.25" fill="none" stroke="#1e1e1e" stroke-width="1.12"/>
<text x="52" y="198.9" text-anchor="middle" font-family="Liberation Mono" font-size="18" fill="#1e1e1e" stroke="#fff" stroke-width="0.31">2</text>
<text x="62.8" y="198.9" text-anchor="middle" font-family="Liberation Mono" font-size="18" fill="#1e1e1e" stroke="#fff" stroke-width="0.31">4</text>
<ellipse cx="73.6" cy="193.09" rx="3.19" ry="5.25" fill="none" stroke="#1e1e1e" stroke-width="1.12"/>
<text x="52" y="254.1" text-anchor="middle" font-family="Liberation Mono" font-size="18" fill="#1e1e1e" stroke="#fff" stroke-width="0.31">2</text>
<text x="62.8" y="254.1" text-anchor="middle" font-family="Liberation Mono" font-size="18" fill="#1e1e1e" stroke="#fff" stroke-width="0.31">3</text>
<ellipse cx="73.6" cy="248.29" rx="3.19" ry="5.25" fill="none" stroke="#1e1e1e" stroke-width="1.12"/>
<text x="154.3" y="272" text-anchor="middle" font-family="Liberation Mono" font-size="18" fill="#1e1e1e" stroke="#fff" stroke-width="0.31">5</text>
<ellipse cx="165.1" cy="266.19" rx="3.19" ry="5.25" fill="none" stroke="#1e1e1e" stroke-width="1.12"/>
<text x="225.9" y="272" text-anchor="middle" font-family="Liberation Mono" font-size="18" fill="#1e1e1e" stroke="#fff" stroke-width="0.31">1</text>
<ellipse cx="236.7" cy="266.19" rx="3.19" ry="5.25" fill="none" stroke="#1e1e1e" stroke-width="1.12"/>
<ellipse cx="247.5" cy="266.19" rx="3.19" ry="5.25" fill="none" stroke="#1e1e1e" stroke-width="1.12"/>
<text x="303.1" y="272" text-anchor="middle" font-family="Liberation Mono" font-size="18" fill="#1e1e1e" stroke="#fff" stroke-width="0.31">1</text>
<text x="313.9" y="272" text-anchor="middle" font-family="Liberation Mono" font-size="18" fill="#1e1e1e" stroke="#fff" stroke-width="0.31">5</text>
<ellipse cx="324.7" cy="266.19" rx="3.19" ry="5.25" fill="none" stroke="#1e1e1e" stroke-width="1.12"/>
<text x="380.4" y="272" text-anchor="middle" font-family="Liberation Mono" font-size="18" fill="#1e1e1e" stroke="#fff" stroke-width="0.31">2</text>
<ellipse cx="391.2" cy="266.19" rx="3.19" ry="5.25" fill="none" stroke="#1e1e1e" stroke-width="1.12"/>
<ellipse cx="402" cy="266.19" rx="3.19" ry="5.25" fill="none" stroke="#1e1e1e" stroke-width="1.12"/>
<text x="457.7" y="272" text-anchor="middle" font-family="Liberation Mono" font-size="18" fill="#1e1e1e" stroke="#fff" stroke-width="0.31">2</text>
<text x="468.5" y="272" text-anchor="middle" font-family="Liberation Mono" font-size="18" fill="#1e1e1e" stroke="#fff" stroke-width="0.31">5</text>
<ellipse cx="479.3" cy="266.19" rx="3.19" ry="5.25" fill="none" stroke="#1e1e1e" stroke-width="1.12"/>
<text x="566.8" y="22.2" text-anchor="middle" font-family="Liberation Mono" font-size="18" fill="#1e1e1e" stroke="#fff" stroke-width="0.31">1</text>
<text x="577.6" y="22.2" text-anchor="middle" font-family="Liberation Mono" font-size="18" fill="#1e1e1e" stroke="#fff" stroke-width="0.31">2</text>
<text x="566.8" y="82.9" text-anchor="middle" font-family="Liberation Mono" font-size="18" fill="#1e1e1e" stroke="#fff" stroke-width="0.31">1</text>
<text x="577.6" y="82.9" text-anchor="middle" font-family="Liberation Mono" font-size="18" fill="#1e1e1e" stroke="#fff" stroke-width="0.31">1</text>
<text x="566.8" y="144.2" text-anchor="middle" font-family="Liberation Mono" font-size="18" fill="#1e1e1e" stroke="#fff" stroke-width="0.31">1</text>
<ellipse cx="577.6" cy="138.4" rx="3.19" ry="5.25" fill="none" stroke="#1e1e1e" stroke-width="1.12"/>
<text x="577.6" y="205.1" text-anchor="middle" font-family="Liberation Mono" font-size="18" fill="#1e1e1e" stroke="#fff" stroke-width="0.31">9</text>
<text x="660" y="277.2" text-anchor="middle" font-family="Liberation Mono" font-size="18" fill="#1e1e1e" stroke="#fff" stroke-width="0.31">5</text>
<ellipse cx="670.8" cy="271.39" rx="3.19" ry="5.25" fill="none" stroke="#1e1e1e" stroke-width="1.12"/>
<text x="733.5" y="277.2" text-anchor="middle" font-family="Liberation Mono" font-size="18" fill="#1e1e1e" stroke="#fff" stroke-width="0.31">1</text>
<ellipse cx="744.3" cy="271.39" rx="3.19" ry="5.25" fill="none" stroke="#1e1e1e" stroke-width="1.12"/>
<ellipse cx="755.1" cy="271.39" rx="3.19" ry="5.25" fill="none" stroke="#1e1e1e" stroke-width="1.12"/>
<text x="812.6" y="277.2" text-anchor="middle" font-family="Liberation Mono" font-size="18" fill="#1e1e1e" stroke="#fff" stroke-width="0.31">1</text>
<text x="823.4" y="277.2" text-anchor="middle" font-family="Liberation Mono" font-size="18" fill="#1e1e1e" stroke="#fff" stroke-width="0.31">5</text>
<ellipse cx="834.2" cy="271.39" rx="3.19" ry="5.25" fill="none" stroke="#1e1e1e" stroke-width="1.12"/>
<text x="891.6" y="277.2" text-anchor="middle" font-family="Liberation Mono" font-size="18" fill="#1e1e1e" stroke="#fff" stroke-width="0.31">2</text>
<ellipse cx="902.4" cy="271.39" rx="3.19" ry="5.25" fill="none" stroke="#1e1e1e" stroke-width="1.12"/>
<ellipse cx="913.2" cy="271.39" rx="3.19" ry="5.25" fill="none" stroke="#1e1e1e" stroke-width="1.12"/>
<text x="970.5" y="277.2" text-anchor="middle" font-family="Liberation Mono" font-size="18" fill="#1e1e1e" stroke="#fff" stroke-width="0.31">2</text>
<text x="981.3" y="277.2" text-anchor="middle" font-family="Liberation Mono" font-size="18" fill="#1e1e1e" stroke="#fff" stroke-width="0.31">5</text>
<ellipse cx="992.1" cy="271.39" rx="3.19" ry="5.25" fill="none" stroke="#1e1e1e" stroke-width="1.12"/>
<text x="114.64" y="32" text-anchor="middle" font-family="Liberation Mono" font-size="15.8" fill="#363636" stroke="#fff" stroke-width="0.27">1</text>
<text x="124.12" y="32" text-anchor="middle" font-family="Liberation Mono" font-size="15.8" fill="#363636" stroke="#fff" stroke-width="0.27">2</text>
<text x="114.64" y="54" text-anchor="middle" font-family="Liberation Mono" font-size="15.8" fill="#363636" stroke="#fff" stroke-width="0.27">1</text>
<text x="124.12" y="54" text-anchor="middle" font-family="Liberation Mono" font-size="15.8" fill="#363636" stroke="#fff" stroke-width="0.27">4</text>
<text x="143.44" y="59.5" text-anchor="middle" font-family="Liberation Mono" font-size="15.8" fill="#363636" stroke="#fff" stroke-width="0.27">1</text>
<text x="152.92" y="59.5" text-anchor="middle" font-family="Liberation Mono" font-size="15.8" fill="#363636" stroke="#fff" stroke-width="0.27">3</text>
<text x="114.64" y="74.8" text-anchor="middle" font-family="Liberation Mono" font-size="15.8" fill="#363636" stroke="#fff" stroke-width="0.27">1</text>
<text x="124.12" y="74.8" text-anchor="middle" font-family="Liberation Mono" font-size="15.8" fill="#363636" stroke="#fff" stroke-width="0.27">5</text>
<text x="114.64" y="103.7" text-anchor="middle" font-family="Liberation Mono" font-size="15.8" fill="#363636" stroke="#fff" stroke-width="0.27">1</text>
<text x="124.12" y="103.7" text-anchor="middle" font-family="Liberation Mono" font-size="15.8" fill="#363636" stroke="#fff" stroke-width="0.27">1</text>
<text x="431.34" y="105.8" text-anchor="middle" font-family="Liberation Mono" font-size="15.8" fill="#363636" stroke="#fff" stroke-width="0.27">1</text>
<text x="440.82" y="105.8" text-anchor="middle" font-family="Liberation Mono" font-size="15.8" fill="#363636" stroke="#fff" stroke-width="0.27">2</text>
<text x="431.34" y="133.6" text-anchor="middle" font-family="Liberation Mono" font-size="15.8" fill="#363636" stroke="#fff" stroke-width="0.27">1</text>
<text x="440.82" y="133.6" text-anchor="middle" font-family="Liberation Mono" font-size="15.8" fill="#363636" stroke="#fff" stroke-width="0.27">4</text>
<text x="431.34" y="159.8" text-anchor="middle" font-family="Liberation Mono" font-size="15.8" fill="#363636" stroke="#fff" stroke-width="0.27">1</text>
<text x="440.82" y="159.8" text-anchor="middle" font-family="Liberation Mono" font-size="15.8" fill="#363636" stroke="#fff" stroke-width="0.27">5</text>
<text x="431.34" y="173.8" text-anchor="middle" font-family="Liberation Mono" font-size="15.8" fill="#363636" stroke="#fff" stroke-width="0.27">1</text>
<text x="440.82" y="173.8" text-anchor="middle" font-family="Liberation Mono" font-size="15.8" fill="#363636" stroke="#fff" stroke-width="0.27">3</text>
<text x="431.34" y="188" text-anchor="middle" font-family="Liberation Mono" font-size="15.8" fill="#363636" stroke="#fff" stroke-width="0.27">1</text>
<text x="440.82" y="188" text-anchor="middle" font-family="Liberation Mono" font-size="15.8" fill="#363636" stroke="#fff" stroke-width="0.27">1</text>
<text x="939.39" y="41.8" text-anchor="middle" font-family="Liberation Mono" font-size="15.3" fill="#333" stroke="#fff" stroke-width="0.26">1</text>
<text x="948.57" y="41.8" text-anchor="middle" font-family="Liberation Mono" font-size="15.3" fill="#333" stroke="#fff" stroke-width="0.26">2</text>
<text x="957.75" y="41.8" text-anchor="middle" font-family="Liberation Mono" font-size="15.3" fill="#333" stroke="#fff" stroke-width="0.26">'</text>
<text x="939.39" y="217.2" text-anchor="middle" font-family="Liberation Mono" font-size="15.3" fill="#333" stroke="#fff" stroke-width="0.26">1</text>
<text x="948.57" y="217.2" text-anchor="middle" font-family="Liberation Mono" font-size="15.3" fill="#333" stroke="#fff" stroke-width="0.26">4</text>
<text x="957.75" y="217.2" text-anchor="middle" font-family="Liberation Mono" font-size="15.3" fill="#333" stroke="#fff" stroke-width="0.26">'</text>
<text x="233.5" y="308.6" font-family="Liberation Mono" font-size="18.5" fill="#1c1c1c" stroke="#fff" stroke-width="0.1" textLength="131.6" lengthAdjust="spacing">time (sec.)</text>
<text x="741.9" y="311.8" font-family="Liberation Mono" font-size="18.5" fill="#1c1c1c" stroke="#fff" stroke-width="0.1" textLength="134" lengthAdjust="spacing">time (sec.)</text>
<text transform="translate(18.5,221.4) rotate(-90)" font-family="Liberation Mono" font-size="18.5" fill="#1c1c1c" stroke="#fff" stroke-width="0.1" textLength="190.8" lengthAdjust="spacing">SPR angle (a.u.)</text>
<text transform="translate(520.2,274.4) rotate(-90)" font-family="Liberation Mono" font-size="18.5" fill="#1c1c1c" stroke="#fff" stroke-width="0.1" textLength="270" lengthAdjust="spacing">SPR angle shift (a.u.)</text>
<text x="226.18" y="357.0" font-family="Liberation Serif" font-size="25.5" fill="#000">(</text>
<text transform="translate(234.95,357.7) scale(0.918,1)" font-family="Liberation Serif" font-weight="bold" font-size="27.5" fill="#000">A</text>
<text x="254.63" y="357.0" font-family="Liberation Serif" font-size="25.5" fill="#000">)</text>
<text x="734.38" y="357.0" font-family="Liberation Serif" font-size="25.5" fill="#000">(</text>
<text transform="translate(743.37,357.7) scale(0.935,1)" font-family="Liberation Serif" font-weight="bold" font-size="27.5" fill="#000">B</text>
<text x="760.83" y="357.0" font-family="Liberation Serif" font-size="25.5" fill="#000">)</text>
</g></svg>
</body></html>
